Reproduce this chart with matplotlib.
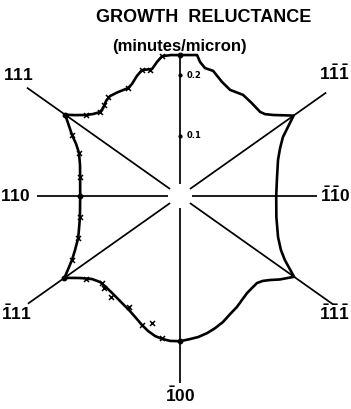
import numpy as np
import matplotlib.pyplot as plt

plt.rcParams['mathtext.fontset'] = 'custom'
plt.rcParams['mathtext.rm'] = 'Liberation Sans:bold'
plt.rcParams['mathtext.it'] = 'Liberation Sans:bold'
plt.rcParams['mathtext.bf'] = 'Liberation Sans:bold'

# growth reluctance (minutes/micron) against direction, angle in degrees
# measured from the [-1-10] direction, counter-clockwise
curve_deg = [-90, -86.0, -82.7, -78.85, -75.15, -71.2, -67.0, -62.8, -59.2, -55.4,
             -51.95, -48.5, -45.7, -43.0, -39.9, -35.3, -31.4, -28.1, -22.7, -12.3,
             0, 10.5, 20.2, 25.6, 29.8, 35.3, 41.05, 43.97, 46.4, 52.25,
             58.05, 61.7, 64.75, 69.8, 75.2, 78.95, 81.5, 83.1, 86.35, 90,
             93.7, 97.3, 99.7, 102.4, 106.8, 109.7, 113.2, 115.7, 120.8, 125,
             127.9, 131.2, 133.6, 136.7, 139.2, 142.35, 144.7, 150.5, 153.4, 156.9,
             162.8, 169.2, 180, 191.9, 197.6, 202.4, 207.2, 210.65, 215.3, 219.35,
             223.3, 227.1, 230.9, 235.6, 240.9, 245.9, 250.2, 253.6, 256.7, 259.9,
             262.8, 266.1, 270]
curve_r = [0.240, 0.237, 0.235, 0.231, 0.226, 0.220, 0.212, 0.206, 0.200, 0.195,
           0.193, 0.192, 0.196, 0.2035, 0.215, 0.231, 0.203, 0.189, 0.1756, 0.163,
           0.159, 0.163, 0.1726, 0.1834, 0.196, 0.230, 0.204, 0.195, 0.192, 0.194,
           0.197, 0.195, 0.194, 0.201, 0.214, 0.2155, 0.224, 0.2347, 0.2335, 0.233,
           0.2335, 0.233, 0.225, 0.215, 0.2175, 0.211, 0.2015, 0.198, 0.200, 0.2017,
           0.199, 0.193, 0.1917, 0.1976, 0.205, 0.219, 0.2325, 0.205, 0.192, 0.1815,
           0.173, 0.168, 0.165, 0.169, 0.175, 0.182, 0.195, 0.2075, 0.234, 0.2137,
           0.200, 0.194, 0.194, 0.196, 0.2005, 0.2064, 0.2144, 0.2223, 0.2293, 0.235,
           0.238, 0.240, 0.240]

# measured points
meas_deg = [97.3, 103.4, 106.8, 115.7, 126, 129.9, 133.6, 139.2, 150.5, 156.9,
            169.2, 191.9, 202.4, 210.6, 221.4, 228.1, 230.4, 235.7, 245.3, 253.6,
            257.6, 262.8]
meas_r = [0.233, 0.214, 0.2175, 0.198, 0.202, 0.196, 0.192, 0.205, 0.205, 0.1815,
          0.168, 0.169, 0.182, 0.207, 0.207, 0.193, 0.197, 0.202, 0.202, 0.222,
          0.215, 0.237]
# measured points lying on the symmetry directions
sym_deg = [90, 144.7, 180, 215.3, 270]
sym_r = [0.233, 0.2325, 0.165, 0.234, 0.240]

# crystal directions drawn as rays
ray_deg = [0, 35.3, 90, 144.7, 180, 215.3, 270, 324.7]
ray_len = [0.227, 0.296, 0.233, 0.310, 0.237, 0.308, 0.309, 0.310]
ray_gap = 0.02

dir_labels = [r'$\mathrm{111}$', r'$\mathrm{1\bar{1}\bar{1}}$', r'$\mathrm{110}$',
              r'$\mathrm{\bar{1}\bar{1}0}$', r'$\mathrm{\bar{1}11}$',
              r'$\mathrm{\bar{1}\bar{1}\bar{1}}$', r'$\mathrm{\bar{1}00}$']
dir_pos = [(-0.268, 0.200), (0.255, 0.202), (-0.272, 0.0), (0.256, 0.0),
           (-0.270, -0.196), (0.255, -0.196), (0.0, -0.330)]

tick_vals = [0.1, 0.2]
tick_text = ['0.1', '0.2']


def xy(deg, r):
    t = np.radians(np.asarray(deg, dtype=float))
    r = np.asarray(r, dtype=float)
    return r * np.cos(t), r * np.sin(t)


fig = plt.figure(figsize=(3.51, 4.09), dpi=100)
ax = fig.add_axes([0, 0, 1, 1])
ax.set_xlim(-0.2975, 0.2826)
ax.set_ylim(-0.352, 0.324)
ax.axis('off')

for d, L in zip(ray_deg, ray_len):
    x, y = xy([d, d], [ray_gap, L])
    ax.plot(x, y, color='black', lw=1.25, solid_capstyle='butt')

x, y = xy(curve_deg, curve_r)
ax.plot(x, y, color='black', lw=1.9, solid_joinstyle='round')

x, y = xy(meas_deg, meas_r)
ax.plot(x, y, 'x', color='black', ms=3.6, mew=1.1)
x, y = xy(sym_deg, sym_r)
ax.plot(x, y, 'o', color='black', ms=3.2)

for v, s in zip(tick_vals, tick_text):
    ax.plot([0], [v], 'o', color='black', ms=2)
    ax.text(0.011, v, s, fontsize=6, fontweight='bold', va='center', ha='left',
            family='DejaVu Sans')

for s, (px, py) in zip(dir_labels, dir_pos):
    ax.text(px, py, s, fontsize=12.5, ha='center', va='center')

fig.text(0.581, 0.957, 'GROWTH  RELUCTANCE', fontsize=13, fontweight='bold',
         ha='center', va='center', family='Liberation Sans')
fig.text(0.51, 0.887, '(minutes/micron)', fontsize=12, fontweight='bold',
         ha='center', va='center', family='Liberation Sans')

fig.savefig('out.png', dpi=100)
